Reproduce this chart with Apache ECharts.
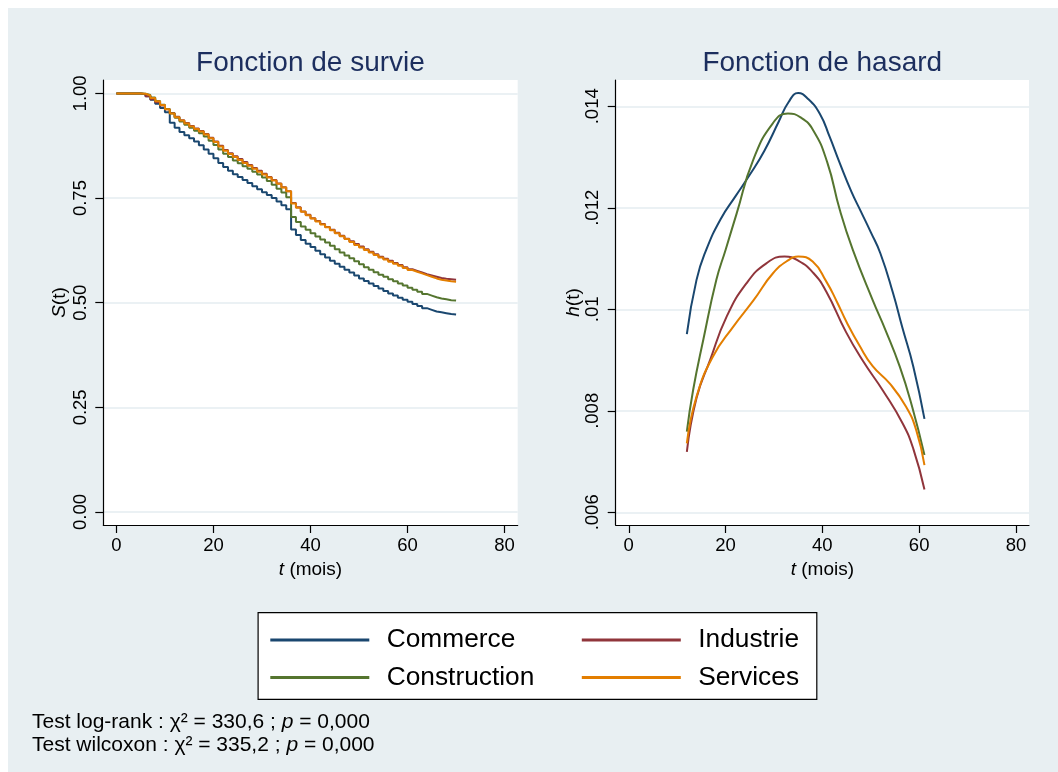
<!DOCTYPE html>
<html>
<head>
<meta charset="utf-8">
<script src="https://cdn.jsdelivr.net/npm/echarts@6/dist/echarts.min.js"></script>
<style>
  html, body { margin: 0; padding: 0; background: #ffffff; }
  #chart { width: 1058px; height: 772px; }
</style>
</head>
<body>
<div id="chart"></div>
<script>
// Secteurs (ordre des couleurs et de la légende)
const groupes = ['Commerce', 'Industrie', 'Construction', 'Services'];
const couleurs = ['#1a476f', '#90353b', '#55752f', '#e37e00'];

// Fonction de survie de Kaplan-Meier, mois 0 à 70
const moisSurvie = [0, 1, 2, 3, 4, 5, 6, 7, 8, 9, 10, 11, 12, 13, 14, 15, 16, 17, 18, 19,
  20, 21, 22, 23, 24, 25, 26, 27, 28, 29, 30, 31, 32, 33, 34, 35, 36, 37, 38, 39,
  40, 41, 42, 43, 44, 45, 46, 47, 48, 49, 50, 51, 52, 53, 54, 55, 56, 57, 58, 59,
  60, 61, 62, 63, 64, 65, 66, 67, 68, 69, 70];

const survieCommerce = [1.000, 1.000, 1.000, 1.000, 1.000, 0.998, 0.993, 0.985, 0.975, 0.965,
  0.955, 0.930, 0.918, 0.908, 0.900, 0.893, 0.885, 0.876, 0.866, 0.856,
  0.845, 0.834, 0.824, 0.815, 0.807, 0.800, 0.793, 0.786, 0.778, 0.771,
  0.764, 0.757, 0.750, 0.742, 0.733, 0.723, 0.675, 0.662, 0.650, 0.641,
  0.633, 0.624, 0.616, 0.608, 0.600, 0.593, 0.586, 0.579, 0.572, 0.565,
  0.558, 0.552, 0.546, 0.540, 0.534, 0.528, 0.522, 0.517, 0.512, 0.507,
  0.502, 0.497, 0.492, 0.487, 0.483, 0.479, 0.477, 0.475, 0.473, 0.472,
  0.472];

const survieIndustrie = [1.000, 1.000, 1.000, 1.000, 1.000, 0.998, 0.993, 0.986, 0.979, 0.971,
  0.962, 0.953, 0.944, 0.936, 0.929, 0.922, 0.916, 0.910, 0.903, 0.894,
  0.885, 0.875, 0.865, 0.857, 0.850, 0.843, 0.836, 0.829, 0.822, 0.815,
  0.808, 0.800, 0.793, 0.785, 0.776, 0.766, 0.738, 0.728, 0.718, 0.710,
  0.702, 0.695, 0.688, 0.681, 0.674, 0.667, 0.660, 0.653, 0.647, 0.640,
  0.634, 0.628, 0.622, 0.616, 0.610, 0.605, 0.600, 0.595, 0.590, 0.585,
  0.580, 0.576, 0.572, 0.568, 0.565, 0.562, 0.559, 0.557, 0.556, 0.555,
  0.554];

const survieConstruction = [1.000, 1.000, 1.000, 1.000, 1.000, 0.999, 0.996, 0.990, 0.982, 0.973,
  0.963, 0.952, 0.942, 0.933, 0.925, 0.918, 0.911, 0.905, 0.897, 0.887,
  0.877, 0.866, 0.856, 0.848, 0.840, 0.833, 0.826, 0.820, 0.813, 0.806,
  0.799, 0.791, 0.782, 0.772, 0.763, 0.752, 0.705, 0.693, 0.682, 0.674,
  0.666, 0.658, 0.651, 0.644, 0.636, 0.628, 0.620, 0.613, 0.606, 0.599,
  0.592, 0.585, 0.579, 0.573, 0.567, 0.562, 0.556, 0.551, 0.546, 0.541,
  0.536, 0.531, 0.526, 0.521, 0.517, 0.513, 0.510, 0.508, 0.506, 0.505,
  0.505];

const survieServices = [1.000, 1.000, 1.000, 1.000, 1.000, 0.999, 0.995, 0.989, 0.981, 0.972,
  0.962, 0.952, 0.943, 0.935, 0.928, 0.921, 0.915, 0.909, 0.902, 0.893,
  0.884, 0.873, 0.863, 0.855, 0.848, 0.841, 0.834, 0.827, 0.820, 0.813,
  0.806, 0.799, 0.792, 0.784, 0.775, 0.766, 0.737, 0.727, 0.717, 0.709,
  0.701, 0.694, 0.687, 0.680, 0.673, 0.666, 0.659, 0.652, 0.645, 0.638,
  0.632, 0.626, 0.620, 0.614, 0.608, 0.603, 0.598, 0.593, 0.588, 0.583,
  0.578, 0.574, 0.570, 0.566, 0.562, 0.558, 0.555, 0.553, 0.551, 0.550,
  0.549];

// Fonction de hasard lissée : instants (mois) et valeurs
const tHasardCommerce = [12, 14, 16, 19, 22, 25, 28, 31, 33, 35, 37, 39.5, 41.5, 43.6, 46, 48, 50, 52, 54.6, 56.5, 58.8, 61.1];
const hasardCommerce = [0.00951, 0.01058, 0.01117, 0.01178, 0.01222, 0.01265, 0.01312, 0.01370, 0.01408, 0.01426, 0.01415,
  0.01385, 0.01340, 0.01288, 0.01232, 0.01192, 0.01152, 0.01110, 0.01032, 0.00965, 0.00887, 0.00784];

const tHasardIndustrie = [12, 14, 16.8, 20.2, 24.3, 28.5, 32.2, 35, 38.1, 40.8, 44.9, 48.4, 52.5, 56.6, 58.8, 61.1];
const hasardIndustrie = [0.00719, 0.00825, 0.00900, 0.00985, 0.01051, 0.01091, 0.01104, 0.01096, 0.01072,
  0.01035, 0.00955, 0.00898, 0.00840, 0.00775, 0.00725, 0.00645];

const tHasardConstruction = [12, 13.3, 15.4, 18.1, 20, 22.3, 25.7, 29.8, 32.9, 35.5, 38.1, 41, 43.6, 46.3, 50.4, 53, 56, 58.5, 61.1];
const hasardConstruction = [0.00759, 0.00841, 0.00940, 0.01058, 0.01117, 0.01189, 0.01294, 0.01367, 0.01386, 0.01378,
  0.01353, 0.01290, 0.01196, 0.01117, 0.01018, 0.00960, 0.00887, 0.00810, 0.00713];

const tHasardServices = [12, 14, 17.4, 21.6, 25.8, 29.8, 33, 35, 38, 40.8, 43, 45, 47.7, 50.4, 53.9, 57.3, 59.4, 61.1];
const hasardServices = [0.00736, 0.00828, 0.00907, 0.00966, 0.01018, 0.01071, 0.01097, 0.01104, 0.01094, 0.01055,
  0.01015, 0.00975, 0.00928, 0.00888, 0.00854, 0.00808, 0.00762, 0.00693];

// Graduations des axes
const ticksT = [0, 20, 40, 60, 80];
const ticksSurvie = [0, 0.25, 0.5, 0.75, 1];
const ticksHasard = [0.006, 0.008, 0.01, 0.012, 0.014];

const police = "'Liberation Sans', Arial, Helvetica, sans-serif";
const fond = '#e8eff2';
const grille = '#e4edf1';

const survies = [survieCommerce, survieIndustrie, survieConstruction, survieServices];
const tHasards = [tHasardCommerce, tHasardIndustrie, tHasardConstruction, tHasardServices];
const hasards = [hasardCommerce, hasardIndustrie, hasardConstruction, hasardServices];

function paires(xs, ys) { return xs.map((x, i) => [x, ys[i]]); }

const axeCommun = {
  axisLine: { show: true, onZero: false, lineStyle: { color: '#000', width: 1.2 } },
  axisTick: { show: true, length: 8, lineStyle: { color: '#000', width: 1.2 } },
  nameTextStyle: { fontFamily: police, fontSize: 19, color: '#000',
    rich: { i: { fontFamily: police, fontSize: 19, fontStyle: 'italic', color: '#000' } } }
};

function axeT(grid) {
  return Object.assign({}, axeCommun, {
    type: 'value', gridIndex: grid, min: -2.7, max: 82.7,
    axisTick: Object.assign({}, axeCommun.axisTick, { customValues: ticksT }),
    axisLabel: { customValues: ticksT, margin: 11, fontFamily: police, fontSize: 18.5, color: '#000' },
    splitLine: { show: false },
    name: '{i|t} (mois)', nameLocation: 'middle', nameGap: 33
  });
}

function axeY(grid, min, max, ticks, fmt, nom, gap) {
  return Object.assign({}, axeCommun, {
    type: 'value', gridIndex: grid, min: min, max: max,
    axisTick: Object.assign({}, axeCommun.axisTick, { customValues: ticks }),
    axisLabel: { customValues: ticks, rotate: 90, margin: 13, formatter: fmt,
      fontFamily: police, fontSize: 18.5, color: '#000' },
    splitLine: { show: true, lineStyle: { color: grille, width: 1.5 } },
    name: nom, nameLocation: 'middle', nameGap: gap
  });
}

const series = [];
groupes.forEach((g, k) => {
  series.push({
    name: g, type: 'line', xAxisIndex: 0, yAxisIndex: 0, step: 'end',
    data: paires(moisSurvie, survies[k]), showSymbol: false,
    lineStyle: { color: couleurs[k], width: 2 }, itemStyle: { color: couleurs[k] }
  });
});
groupes.forEach((g, k) => {
  series.push({
    name: g, type: 'line', xAxisIndex: 1, yAxisIndex: 1, smooth: 0.5,
    data: paires(tHasards[k], hasards[k]), showSymbol: false,
    lineStyle: { color: couleurs[k], width: 2 }, itemStyle: { color: couleurs[k] }
  });
});

const premiereColonne = ['Commerce', 'Construction'];

const option = {
  animation: false,
  backgroundColor: '#ffffff',
  graphic: [
    { type: 'rect', z: -10, shape: { x: 8, y: 8, width: 1050, height: 764 }, style: { fill: fond } },
    { type: 'rect', z: 0, shape: { x: 258.1, y: 612.7, width: 558.7, height: 86.6 },
      style: { fill: '#ffffff', stroke: '#000', lineWidth: 1.2 } }
  ],
  title: [
    { text: 'Fonction de survie', left: 310.5, top: 49, padding: 0, textAlign: 'center',
      textStyle: { fontFamily: police, fontSize: 28, fontWeight: 'normal', color: '#1c2e5e' } },
    { text: 'Fonction de hasard', left: 822.3, top: 49, padding: 0, textAlign: 'center',
      textStyle: { fontFamily: police, fontSize: 28, fontWeight: 'normal', color: '#1c2e5e' } },
    { text: 'Test log-rank : χ² = 330,6 ; {i|p} = 0,000\nTest wilcoxon : χ² = 335,2 ; {i|p} = 0,000',
      left: 32, top: 711, padding: 0,
      textStyle: { fontFamily: police, fontSize: 21, fontWeight: 'normal', color: '#000', lineHeight: 23,
        rich: { i: { fontFamily: police, fontSize: 21, fontStyle: 'italic', color: '#000', lineHeight: 23 } } } }
  ],
  legend: {
    data: groupes, left: 270.3, top: 626, width: 640, padding: 0, itemGap: 9.4,
    icon: 'rect', itemWidth: 99, itemHeight: 3,
    formatter: n => premiereColonne.includes(n) ? '{a|' + n + '}' : '{b|' + n + '}',
    textStyle: { fontFamily: police, fontSize: 26.3, color: '#000', lineHeight: 28, padding: [0, 0, 0, 12.4],
      rich: {
        a: { fontFamily: police, fontSize: 26.3, color: '#000', width: 185.7, lineHeight: 28 },
        b: { fontFamily: police, fontSize: 26.3, color: '#000', lineHeight: 28 }
      } },
    selectedMode: false
  },
  grid: [
    { left: 103.3, top: 80, width: 414.4, height: 445, show: true, backgroundColor: '#ffffff', borderWidth: 0 },
    { left: 615.7, top: 80, width: 413.3, height: 445, show: true, backgroundColor: '#ffffff', borderWidth: 0 }
  ],
  xAxis: [axeT(0), axeT(1)],
  yAxis: [
    axeY(0, -0.031, 1.032, ticksSurvie, v => v.toFixed(2), '{i|S}(t)', 34),
    axeY(1, 0.00575, 0.014518, ticksHasard, v => String(v).replace(/^0/, ''), '{i|h}(t)', 32.5)
  ],
  series: series
};

const chart = echarts.init(document.getElementById('chart'), null, { renderer: 'canvas' });
chart.setOption(option);
</script>
</body>
</html>
